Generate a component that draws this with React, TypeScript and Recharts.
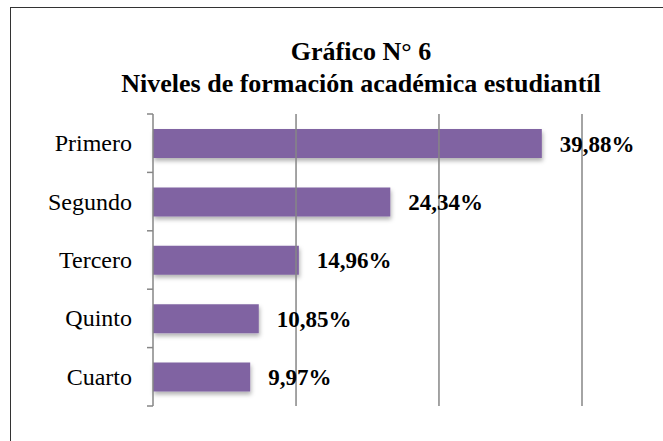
import { BarChart, Bar, XAxis, YAxis, ReferenceLine, LabelList } from 'recharts';

const CATEGORIES = ['Primero', 'Segundo', 'Tercero', 'Quinto', 'Cuarto'];
const VALUES = [39.88, 24.34, 14.96, 10.85, 9.97];
const X_TICKS = [0, 14.67, 29.33, 44];
const X_MAX = 44;

const TITLE_1 = 'Gráfico N° 6';
const TITLE_2 = 'Niveles de formación académica estudiantíl';

const SERIF = "'Liberation Serif', 'Times New Roman', serif";
const BAR_COLOR = '#8064A2';
const AXIS_COLOR = '#868686';

const W = 663;
const H = 441;
const MARGIN = { top: 114, right: 81, bottom: 35, left: 0 };
const Y_AXIS_W = 153;
const BAND = (H - MARGIN.top - MARGIN.bottom) / CATEGORIES.length;

const data = CATEGORIES.map((name, i) => ({ name, value: VALUES[i] }));

function formatPct(v: number): string {
  return v.toFixed(2).replace('.', ',') + '%';
}

// category label plus Excel-style tick marks on the band edges
function CategoryTick(props: any) {
  const { x, y, payload, index } = props;
  const last = index === CATEGORIES.length - 1;
  return (
    <g>
      <line x1={x - 6} x2={x} y1={y - BAND / 2} y2={y - BAND / 2} stroke={AXIS_COLOR} strokeWidth={1.5} />
      {last && (
        <line x1={x - 6} x2={x} y1={y + BAND / 2} y2={y + BAND / 2} stroke={AXIS_COLOR} strokeWidth={1.5} />
      )}
      <text x={x - 21} y={y} dy={8} textAnchor="end" fontFamily={SERIF} fontSize={24} fill="#000">
        {payload.value}
      </text>
    </g>
  );
}

export default function App() {
  return (
    <div
      style={{
        position: 'absolute',
        left: 0,
        top: 0,
        width: W,
        height: H,
        background: '#fff',
        overflow: 'hidden',
      }}
    >
      <div
        style={{
          position: 'absolute',
          left: 10,
          top: 7,
          width: 800,
          height: 600,
          borderLeft: '1.5px solid #333',
          borderTop: '1.5px solid #333',
        }}
      />
      <div
        style={{
          position: 'absolute',
          left: 0,
          top: 36,
          width: 722,
          textAlign: 'center',
          fontFamily: SERIF,
          fontWeight: 'bold',
          fontSize: 26,
          lineHeight: '32px',
          color: '#000',
        }}
      >
        <div>{TITLE_1}</div>
        <div>{TITLE_2}</div>
      </div>
      <div style={{ position: 'absolute', left: 0, top: 0 }}>
        <BarChart width={W} height={H} data={data} layout="vertical" margin={MARGIN} barCategoryGap={0}>
          <defs>
            <filter id="barShadow" x="-5%" y="-20%" width="115%" height="160%">
              <feDropShadow dx={1} dy={3} stdDeviation={2} floodColor="#000" floodOpacity={0.3} />
            </filter>
          </defs>
          <XAxis type="number" domain={[0, X_MAX]} ticks={X_TICKS} hide />
          <YAxis
            type="category"
            dataKey="name"
            width={Y_AXIS_W}
            axisLine={{ stroke: AXIS_COLOR, strokeWidth: 1.5 }}
            tickLine={false}
            tickSize={0}
            tickMargin={0}
            tick={<CategoryTick />}
            interval={0}
          />
          {X_TICKS.slice(1).map((t) => (
            <ReferenceLine key={t} x={t} stroke={AXIS_COLOR} strokeWidth={1.5} />
          ))}
          <Bar dataKey="value" fill={BAR_COLOR} barSize={29} isAnimationActive={false} filter="url(#barShadow)">
            <LabelList
              dataKey="value"
              position="right"
              offset={18}
              formatter={(v: any) => formatPct(Number(v))}
              fontFamily={SERIF}
              fontWeight="bold"
              fontSize={23}
              fill="#000"
            />
          </Bar>
        </BarChart>
      </div>
    </div>
  );
}
